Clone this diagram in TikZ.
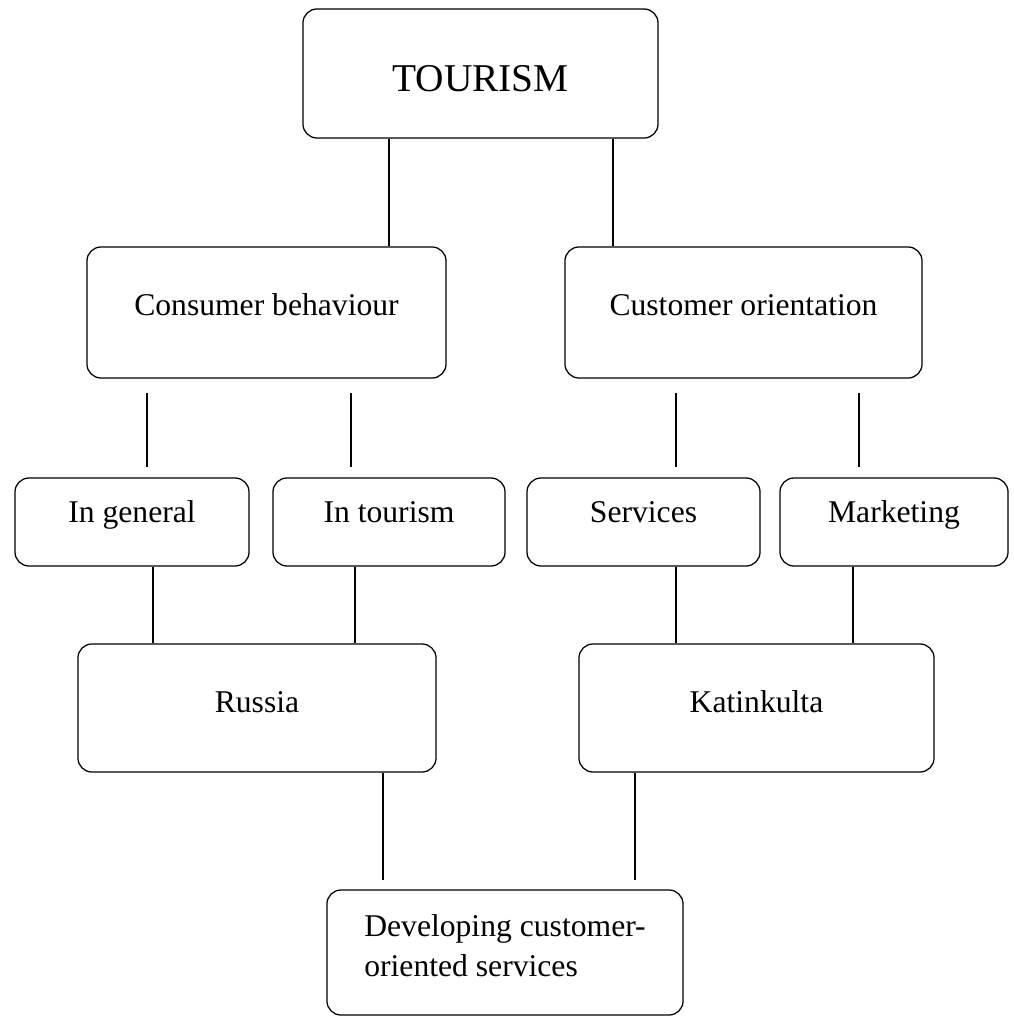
\documentclass[tikz,border=0pt]{standalone}
\usepackage{fontspec}
\setmainfont{Liberation Serif}
\usetikzlibrary{calc}
\begin{document}
\begin{tikzpicture}[x=0.025cm, y=-0.025cm, line width=0.9pt,
  box/.style={draw, rounded corners=0.35cm, align=center, font=\fontsize{22.5}{29}\selectfont},
  topbox/.style={box, font=\fontsize{28}{34}\selectfont, text height=26pt, text depth=1pt},
  bigbox/.style={box, text height=16pt, text depth=12.4pt},
  smallbox/.style={box, text height=14pt, text depth=14pt},
  midbox/.style={box, text height=16pt, text depth=10.3pt}]

\useasboundingbox (0,0) rectangle (1013,1017);

\node[topbox, minimum width=8.875cm, minimum height=3.225cm] (tourism) at (480.5,73.5) {TOURISM};

\node[bigbox, minimum width=8.975cm, minimum height=3.275cm] (consumer) at (266.5,312.5) {Consumer behaviour};
\node[bigbox, minimum width=8.925cm, minimum height=3.275cm] (customer) at (743.5,312.5) {Customer orientation};

\node[smallbox, minimum width=5.85cm, minimum height=2.2cm] (general) at (132,522) {In general};
\node[smallbox, minimum width=5.8cm, minimum height=2.2cm] (intourism) at (389,522) {In tourism};
\node[smallbox, minimum width=5.825cm, minimum height=2.2cm] (services) at (643.5,522) {Services};
\node[smallbox, minimum width=5.7cm, minimum height=2.2cm] (marketing) at (894,522) {Marketing};

\node[midbox, minimum width=8.95cm, minimum height=3.2cm] (russia) at (257,708) {Russia};
\node[midbox, minimum width=8.875cm, minimum height=3.2cm] (katinkulta) at (756.5,708) {Katinkulta};

\node[box, align=left, text depth=10pt, minimum width=8.9cm, minimum height=3.125cm] (developing) at (505,952.5)
  {Developing customer-\\oriented services};

% top level
\draw (389,0 |- tourism.south) -- (389,0 |- consumer.north);
\draw (613,0 |- tourism.south) -- (613,0 |- customer.north);

% loose lines under the second row
\foreach \x/\up/\down in {147/consumer/general, 351/consumer/intourism, 676/customer/services, 859/customer/marketing}
  \draw ($(\x,0 |- \up.south)+(0,14)$) -- ($(\x,0 |- \down.north)+(0,-10)$);

\draw (153,0 |- general.south) -- (153,0 |- russia.north);
\draw (355,0 |- intourism.south) -- (355,0 |- russia.north);
\draw (676,0 |- services.south) -- (676,0 |- katinkulta.north);
\draw (853,0 |- marketing.south) -- (853,0 |- katinkulta.north);

\draw (383,0 |- russia.south) -- ($(383,0 |- developing.north)+(0,-9)$);
\draw (635,0 |- katinkulta.south) -- ($(635,0 |- developing.north)+(0,-9)$);
\end{tikzpicture}
\end{document}
